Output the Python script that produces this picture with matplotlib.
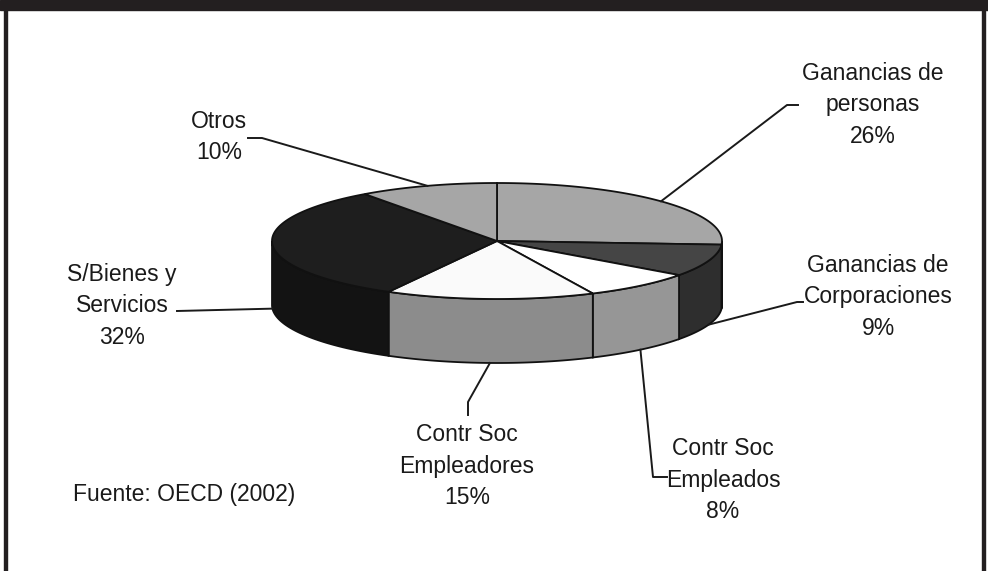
import numpy as np
import matplotlib
matplotlib.use("Agg")
import matplotlib.pyplot as plt
from matplotlib.patches import Polygon, Rectangle

# Tax structure shares (%), clockwise from 12 o'clock
labels = ["Ganancias de\npersonas", "Ganancias de\nCorporaciones", "Contr Soc\nEmpleados",
          "Contr Soc\nEmpleadores", "S/Bienes y\nServicios", "Otros"]
values = [26, 9, 8, 15, 32, 10]
top_colors = ["#a6a6a6", "#454545", "#ffffff", "#fafafa", "#1e1e1e", "#a6a6a6"]
side_colors = ["#8c8c8c", "#2e2e2e", "#969696", "#8c8c8c", "#131313", "#8c8c8c"]

# label block centres and leader line elbows (pixel space)
label_pos = [(873, 105), (878, 297), (723, 480), (467, 466), (122, 306), (219, 137)]
leader_pts = [[(787, 105), (798, 105)], [(797, 302), (803, 302)], [(653, 477), (667, 477)],
              [(468, 402), (468, 415)], [(177, 311)], [(262, 138), (248, 138)]]

W, H = 988, 571
cx, cy, rx, ry, depth = 497, 241, 225, 58, 64

fig = plt.figure(figsize=(W / 100, H / 100), dpi=100)
ax = fig.add_axes([0, 0, 1, 1])
ax.set_xlim(0, W)
ax.set_ylim(H, 0)
ax.axis("off")

# frame
frame_col = "#231f20"
ax.add_patch(Rectangle((0, 0), W, 10, color=frame_col, zorder=5))
ax.add_patch(Rectangle((4, 0), 3, H, color=frame_col, zorder=5))
ax.add_patch(Rectangle((982, 0), 3, H, color=frame_col, zorder=5))


def pt(theta, dz=0.0):
    t = np.radians(theta)
    return cx + rx * np.cos(t), cy - ry * np.sin(t) + dz


ends = 90 - 360 * np.cumsum(values) / sum(values)
starts = np.concatenate([[90], ends[:-1]])

# front walls
for a0, a1, col in zip(starts, ends, side_colors):
    lo, hi = max(a1, -180), min(a0, 0)
    if hi <= lo:
        continue
    th = np.linspace(hi, lo, 60)
    top = [pt(t) for t in th]
    bot = [pt(t, depth) for t in th[::-1]]
    ax.add_patch(Polygon(top + bot, closed=True, facecolor=col,
                         edgecolor="#111111", lw=1.3, zorder=2))

# top faces
for a0, a1, col in zip(starts, ends, top_colors):
    th = np.linspace(a0, a1, 120)
    poly = [(cx, cy)] + [pt(t) for t in th]
    ax.add_patch(Polygon(poly, closed=True, facecolor=col,
                         edgecolor="#111111", lw=1.3, zorder=3))

# labels with leader lines
for a0, a1, lab, v, pos, elbow in zip(starts, ends, labels, values, label_pos, leader_pts):
    mid = (a0 + a1) / 2
    front = np.sin(np.radians(mid)) < 0
    sx, sy = pt(mid, depth if front else 0)
    xs = [sx] + [p[0] for p in elbow]
    ys = [sy] + [p[1] for p in elbow]
    ax.plot(xs, ys, color="#1a1a1a", lw=1.4, zorder=4)
    ax.text(pos[0], pos[1], f"{lab}\n{v}%", ha="center", va="center",
            fontsize=16.5, family="Liberation Sans", color="#1a1a1a",
            linespacing=1.45, zorder=4)

ax.text(73, 495, "Fuente: OECD (2002)", ha="left", va="center",
        fontsize=16.5, family="Liberation Sans", color="#1a1a1a")

fig.savefig("out.png", dpi=100)
